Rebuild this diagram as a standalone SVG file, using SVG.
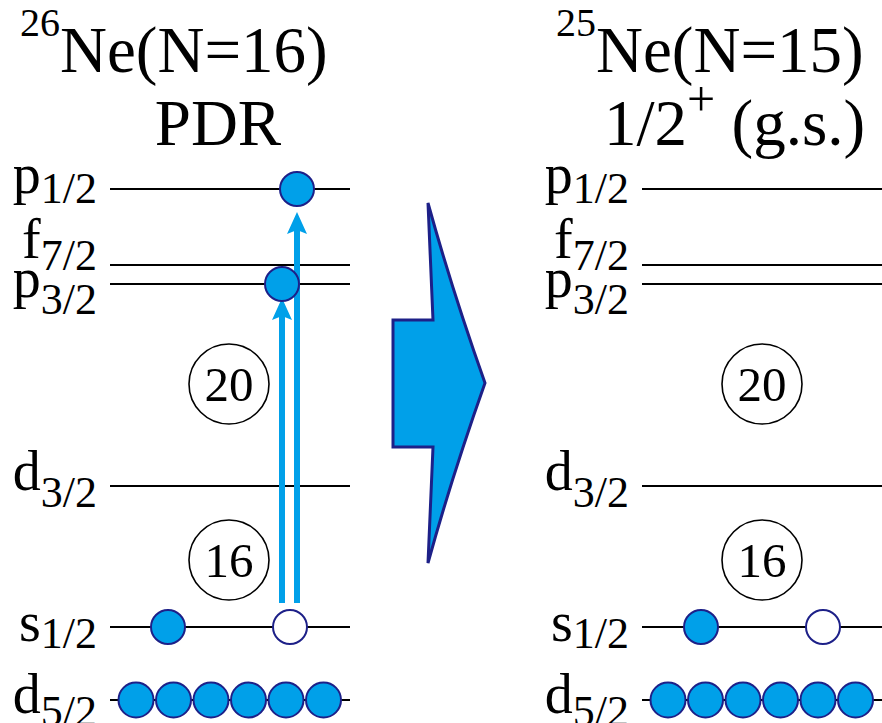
<svg xmlns="http://www.w3.org/2000/svg" width="882" height="723" viewBox="0 0 882 723">
<style>
text{font-family:"Liberation Serif","DejaVu Serif",serif;fill:#000}
.title{font-size:65px}
.sup{font-size:40px}
.plus{font-size:50px}
.lab{font-size:56px}
.sub{font-size:44px}
.lvl{stroke:#000;stroke-width:2;fill:none}
.e{fill:#00A0E9;stroke:#1D2088;stroke-width:2}
.h{fill:#fff;stroke:#1D2088;stroke-width:2}
.ring{fill:none;stroke:#000;stroke-width:1.6}
.num{font-size:49px;text-anchor:middle}
.tr{stroke:#00A0E9;stroke-width:6;fill:none}
</style>
<defs>
<marker id="ah" markerUnits="userSpaceOnUse" viewBox="0 0 22 20" refX="4" refY="10" markerWidth="22" markerHeight="20" orient="auto">
<path d="M0,0 L22,10 L0,20 L4,10 z" fill="#00A0E9"/>
</marker>
</defs>
<g font-family="Liberation Serif, DejaVu Serif, serif">
<g id="title-left">
<text class="title" x="20" y="72"><tspan class="sup" dy="-36">26</tspan><tspan dy="36">Ne(N=16)</tspan></text>
<text class="title" x="218" y="145" text-anchor="middle">PDR</text>
</g>
<g id="title-right">
<text class="title" x="556" y="72"><tspan class="sup" dy="-36">25</tspan><tspan dy="36">Ne(N=15)</tspan></text>
<text class="title" x="604" y="145">1/2<tspan class="plus" dy="-29">+</tspan><tspan dy="29"> (g.s.)</tspan></text>
</g>

<g id="levels-left">
<line class="lvl" x1="110" y1="189" x2="350" y2="189"/>
<line class="lvl" x1="110" y1="265" x2="350" y2="265"/>
<line class="lvl" x1="110" y1="284" x2="350" y2="284"/>
<line class="lvl" x1="110" y1="486" x2="350" y2="486"/>
<line class="lvl" x1="110" y1="627" x2="350" y2="627"/>
<line class="lvl" x1="110" y1="700" x2="350" y2="700"/>
<text class="lab" x="97" y="193" text-anchor="end">p<tspan class="sub" dy="10">1/2</tspan></text>
<text class="lab" x="97" y="258" text-anchor="end">f<tspan class="sub" dy="12">7/2</tspan></text>
<text class="lab" x="97" y="297" text-anchor="end">p<tspan class="sub" dy="17">3/2</tspan></text>
<text class="lab" x="97" y="490" text-anchor="end">d<tspan class="sub" dy="17">3/2</tspan></text>
<text class="lab" x="97" y="641" text-anchor="end">s<tspan class="sub" dy="7">1/2</tspan></text>
<text class="lab" x="97" y="713" text-anchor="end">d<tspan class="sub" dy="13">5/2</tspan></text>
</g>
<g id="levels-right">
<line class="lvl" x1="642" y1="189" x2="882" y2="189"/>
<line class="lvl" x1="642" y1="265" x2="882" y2="265"/>
<line class="lvl" x1="642" y1="284" x2="882" y2="284"/>
<line class="lvl" x1="642" y1="486" x2="882" y2="486"/>
<line class="lvl" x1="642" y1="627" x2="882" y2="627"/>
<line class="lvl" x1="642" y1="700" x2="882" y2="700"/>
<text class="lab" x="629" y="193" text-anchor="end">p<tspan class="sub" dy="10">1/2</tspan></text>
<text class="lab" x="629" y="258" text-anchor="end">f<tspan class="sub" dy="12">7/2</tspan></text>
<text class="lab" x="629" y="297" text-anchor="end">p<tspan class="sub" dy="17">3/2</tspan></text>
<text class="lab" x="629" y="490" text-anchor="end">d<tspan class="sub" dy="17">3/2</tspan></text>
<text class="lab" x="629" y="641" text-anchor="end">s<tspan class="sub" dy="7">1/2</tspan></text>
<text class="lab" x="629" y="713" text-anchor="end">d<tspan class="sub" dy="13">5/2</tspan></text>
</g>

<g id="magic-left">
<circle class="ring" cx="229" cy="384" r="40"/>
<text class="num" x="229" y="401">20</text>
<circle class="ring" cx="229" cy="560" r="40"/>
<text class="num" x="229" y="577">16</text>
</g>
<g id="magic-right">
<circle class="ring" cx="762" cy="384" r="40"/>
<text class="num" x="762" y="401">20</text>
<circle class="ring" cx="762" cy="560" r="40"/>
<text class="num" x="762" y="577">16</text>
</g>
</g>

<g id="connectors">
<line class="tr" x1="282" y1="603" x2="282" y2="316" marker-end="url(#ah)"/>
<line class="tr" x1="297" y1="603" x2="297" y2="230" marker-end="url(#ah)"/>
</g>

<g id="particles-left">
<circle class="e" cx="297" cy="189" r="17"/>
<circle class="e" cx="282" cy="284" r="17"/>
<circle class="e" cx="168" cy="627" r="17"/>
<circle class="h" cx="290" cy="627" r="17"/>
<circle class="e" cx="136" cy="700" r="17.5"/>
<circle class="e" cx="173.5" cy="700" r="17.5"/>
<circle class="e" cx="211" cy="700" r="17.5"/>
<circle class="e" cx="248.5" cy="700" r="17.5"/>
<circle class="e" cx="286" cy="700" r="17.5"/>
<circle class="e" cx="323.5" cy="700" r="17.5"/>
</g>
<g id="particles-right">
<circle class="e" cx="701" cy="627" r="17"/>
<circle class="h" cx="823" cy="627" r="17"/>
<circle class="e" cx="668" cy="700" r="17.5"/>
<circle class="e" cx="705.5" cy="700" r="17.5"/>
<circle class="e" cx="743" cy="700" r="17.5"/>
<circle class="e" cx="780.5" cy="700" r="17.5"/>
<circle class="e" cx="818" cy="700" r="17.5"/>
<circle class="e" cx="855.5" cy="700" r="17.5"/>
</g>

<g id="big-arrow">
<path d="M428,203 L433,320 L393,320 L393,447 L433,447 L428,563 Q452,476 485,383 Q452,290 428,203 Z" fill="#00A0E9" stroke="#1D2088" stroke-width="3" stroke-linejoin="miter"/>
</g>
</svg>
